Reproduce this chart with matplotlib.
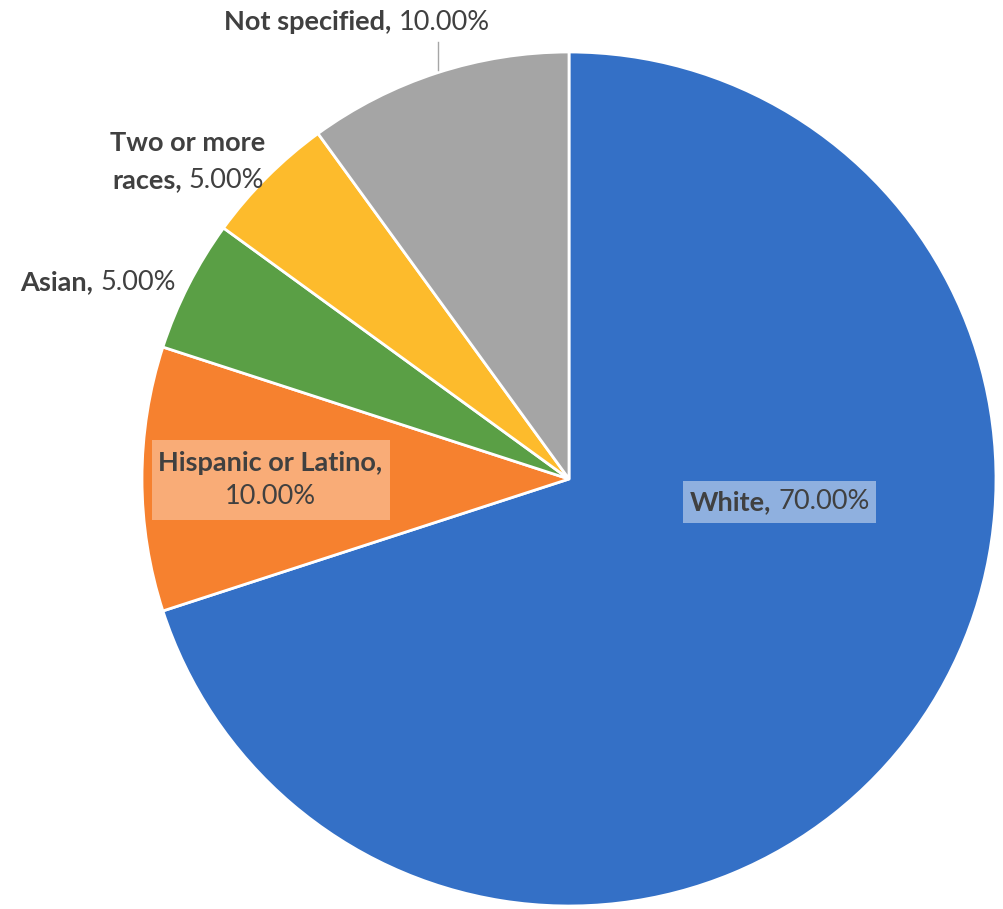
import matplotlib
matplotlib.use("Agg")
import matplotlib.pyplot as plt
from matplotlib.patches import Rectangle

# shares of respondents by race / ethnicity
groups = ["White", "Hispanic or Latino", "Asian", "Two or more races", "Not specified"]
shares = [70.0, 10.0, 5.0, 5.0, 10.0]
colors = ["#3470C6", "#F6812F", "#5A9F45", "#FDBB2C", "#A5A5A5"]

TXT = "#404040"
FONT = "Lato"
SIZE = 19.5

W, H = 1004, 909
fig = plt.figure(figsize=(W / 100, H / 100), dpi=100)
ax = fig.add_axes([0, 0, 1, 1])
ax.set_xlim(0, W)
ax.set_ylim(0, H)
ax.set_aspect("equal")
ax.axis("off")

# pie drawn in pixel units so labels can be placed in the same frame
ax.pie(shares, colors=colors, startangle=90, counterclock=False,
       radius=427, center=(569, H - 479), frame=True,
       wedgeprops=dict(edgecolor="white", linewidth=2))
ax.set_xlim(0, W)
ax.set_ylim(0, H)
ax.axis("off")

renderer = fig.canvas.get_renderer()


def text_width(s, weight):
    t = ax.text(0, 0, s, fontsize=SIZE, family=FONT, weight=weight)
    bb = t.get_window_extent(renderer)
    t.remove()
    return bb.width


def mixed_line(x, y, bold, normal):
    # bold part followed by regular part, centred on x
    gap = text_width("a a", "normal") - text_width("aa", "normal") if (bold and normal) else 0
    wb = text_width(bold, "bold") if bold else 0
    wn = text_width(normal, "normal") if normal else 0
    x0 = x - (wb + gap + wn) / 2
    if bold:
        ax.text(x0, y, bold, fontsize=SIZE, family=FONT, weight="bold",
                color=TXT, va="center", ha="left", zorder=5)
    if normal:
        ax.text(x0 + wb + gap, y, normal, fontsize=SIZE, family=FONT,
                color=TXT, va="center", ha="left", zorder=5)


pct = [f"{v:.2f}%" for v in shares]

# label lines: (x, y-from-top, bold part, regular part)
label_lines = [
    [(780, 502, groups[0] + ",", pct[0])],
    [(270, 463, groups[1] + ",", ""), (270, 497, "", pct[1])],
    [(98, 282, groups[2] + ",", pct[2])],
    [(188, 143, "Two or more", ""), (188, 180, "races,", pct[3])],
    [(357, 22, groups[4] + ",", pct[4])],
]

for lines in label_lines:
    for (x, y, b, n) in lines:
        mixed_line(x, H - y, b, n)

# translucent boxes behind the in-slice labels
ax.add_patch(Rectangle((683, H - 523), 193, 42, facecolor="white",
                       alpha=0.45, edgecolor="none", zorder=4))
ax.add_patch(Rectangle((152, H - 520), 238, 80, facecolor="white",
                       alpha=0.35, edgecolor="none", zorder=4))

# leader line for the top label
ax.plot([438, 438], [H - 42, H - 70], color="#A6A6A6", linewidth=1, zorder=5)

fig.savefig("out.png", dpi=100)
